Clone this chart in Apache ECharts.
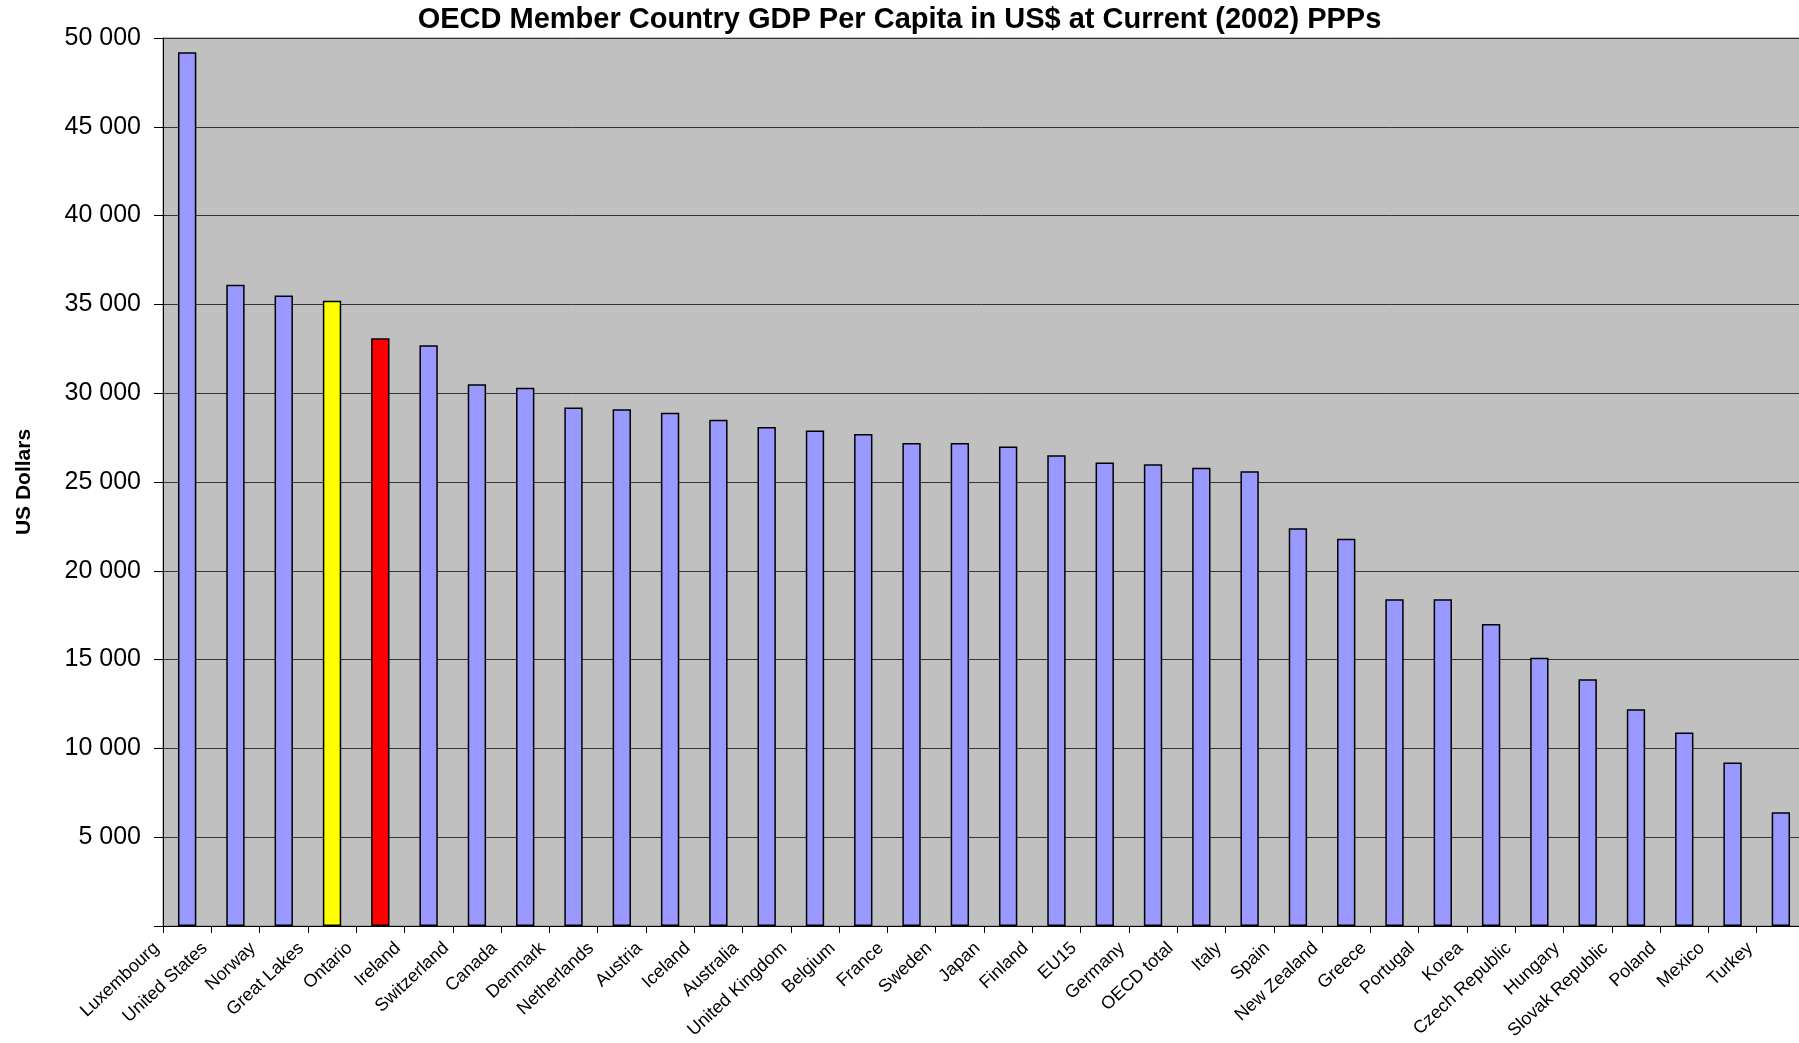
<!DOCTYPE html>
<html>
<head>
<meta charset="utf-8">
<title>OECD GDP per capita</title>
<script src="https://cdn.jsdelivr.net/npm/echarts@6/dist/echarts.min.js"></script>
<style>
  html, body { margin: 0; padding: 0; background: #fff; overflow: hidden; }
  #chart { width: 1799px; height: 1043px; }
</style>
</head>
<body>
<div id="chart"></div>
<script>
// categories, left to right as in the source chart
const countries = [
  "Luxembourg", "United States", "Norway", "Great Lakes", "Ontario", "Ireland",
  "Switzerland", "Canada", "Denmark", "Netherlands", "Austria", "Iceland",
  "Australia", "United Kingdom", "Belgium", "France", "Sweden", "Japan",
  "Finland", "EU15", "Germany", "OECD total", "Italy", "Spain", "New Zealand",
  "Greece", "Portugal", "Korea", "Czech Republic", "Hungary", "Slovak Republic",
  "Poland", "Mexico", "Turkey"
];

// GDP per capita, US$ at current (2002) PPPs
const gdpPerCapita = [
  49200, 36100, 35500, 35200, 33100, 32700,
  30500, 30300, 29200, 29100, 28900, 28500,
  28100, 27900, 27700, 27200, 27200, 27000,
  26500, 26100, 26000, 25800, 25600, 22400, 21800,
  18400, 18400, 17000, 15100, 13900, 12200,
  10900, 9200, 6400
];

const yTicks = [0, 5000, 10000, 15000, 20000, 25000, 30000, 35000, 40000, 45000, 50000];

const fontFamily = "'Liberation Sans', Arial, sans-serif";

function fmt(v) {
  if (v === 0) return "";
  return String(v).replace(/\B(?=(\d{3})+(?!\d))/g, " ");
}

const chart = echarts.init(document.getElementById("chart"));

const option = {
  animation: false,
  title: {
    text: "OECD Member Country GDP Per Capita in US$ at Current (2002) PPPs",
    left: "center",
    top: 0,
    textStyle: { fontFamily, fontSize: 29, fontWeight: "bold", color: "#000" }
  },
  grid: {
    left: 163,
    right: -6,
    top: 38,
    bottom: 117,
    outerBoundsMode: "none",
    containLabel: false,
    show: true,
    backgroundColor: "#c0c0c0",
    borderColor: "#808080",
    borderWidth: 1
  },
  xAxis: {
    type: "category",
    data: countries,
    axisLine: { lineStyle: { color: "#000", width: 1 } },
    axisTick: { show: true, length: 7, lineStyle: { color: "#000" } },
    axisLabel: {
      interval: 0,
      rotate: 43,
      margin: -9,
      padding: [0, 42, 46, 0],
      fontFamily,
      fontSize: 18,
      color: "#000"
    }
  },
  yAxis: {
    type: "value",
    min: yTicks[0],
    max: yTicks[yTicks.length - 1],
    interval: yTicks[1] - yTicks[0],
    name: "US Dollars",
    nameLocation: "middle",
    nameGap: 128,
    nameRotate: 90,
    nameTextStyle: { fontFamily, fontSize: 21, fontWeight: "bold", color: "#000" },
    axisLine: { show: true, lineStyle: { color: "#000", width: 1 } },
    axisTick: { show: true, length: 9, lineStyle: { color: "#000" } },
    axisLabel: {
      margin: 22,
      fontFamily,
      fontSize: 25,
      color: "#000",
      formatter: fmt
    },
    splitLine: { show: true, lineStyle: { color: "#333", width: 1 } }
  },
  series: [
    {
      type: "bar",
      data: gdpPerCapita,
      barWidth: "38%",
      itemStyle: {
        borderColor: "#000",
        borderWidth: 1.5,
        color: function (p) {
          if (p.name === "Great Lakes") return "#ffff00";
          if (p.name === "Ontario") return "#ff0000";
          return "#9999ff";
        }
      }
    }
  ]
};

chart.setOption(option);
</script>
</body>
</html>
